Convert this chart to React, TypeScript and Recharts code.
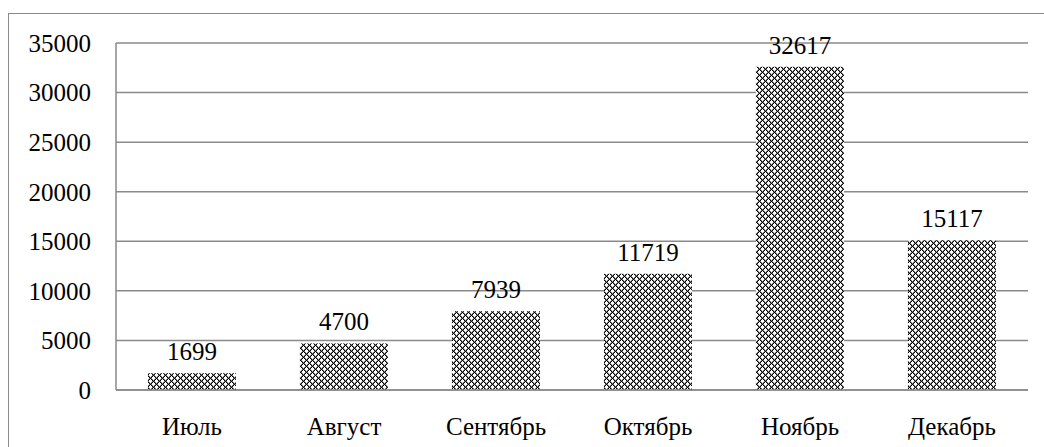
import React from 'react';
import { BarChart, Bar, XAxis, YAxis, CartesianGrid, LabelList } from 'recharts';

const months = ['Июль', 'Август', 'Сентябрь', 'Октябрь', 'Ноябрь', 'Декабрь'];
const values = [1699, 4700, 7939, 11719, 32617, 15117];
const yTicks = [0, 5000, 10000, 15000, 20000, 25000, 30000, 35000];

const data = months.map((m, i) => ({ month: m, value: values[i] }));

const FONT = 'Times New Roman';

const patternCells: Array<[number, number, string]> = [];
for (let y = 0; y < 6; y++) {
  for (let x = 0; x < 6; x++) {
    const d1 = (((x - y) % 6) + 6) % 6;
    const d2 = (x + y) % 6;
    if (d1 === 0 || d2 === 0) patternCells.push([x, y, '#000']);
    else if (d1 === 1 || d2 === 5) patternCells.push([x, y, '#7a7a7a']);
  }
}

export default function App() {
  return (
    <div style={{ position: 'absolute', left: 0, top: 0, width: 1044, height: 447, background: '#fff', overflow: 'hidden' }}>
      <div
        style={{
          position: 'absolute',
          left: 8,
          top: 13,
          width: 1100,
          height: 500,
          borderLeft: '1.5px solid #8a8a8a',
          borderTop: '1.5px solid #8a8a8a',
        }}
      />
      <div style={{ position: 'absolute', left: 0, top: 0 }}>
        <BarChart
          width={1044}
          height={447}
          data={data}
          margin={{ top: 43, right: 16, bottom: 0, left: 0 }}
          barCategoryGap="21%"
        >
          <defs>
            <pattern id="chk" width={6} height={6} patternUnits="userSpaceOnUse">
              <rect x={0} y={0} width={6} height={6} fill="#fff" />
              {patternCells.map(([x, y, c], i) => (
                <rect key={i} x={x} y={y} width={1} height={1} fill={c} shapeRendering="crispEdges" />
              ))}
            </pattern>
          </defs>
          <CartesianGrid vertical={false} stroke="#8a8a8a" strokeWidth={1.5} />
          <XAxis
            dataKey="month"
            height={57}
            tickLine={false}
            tickSize={0}
            tickMargin={27}
            axisLine={{ stroke: '#8a8a8a', strokeWidth: 1.5 }}
            tick={{ fill: '#000', fontSize: 25, fontFamily: FONT }}
            interval={0}
          />
          <YAxis
            width={116}
            domain={[0, 35000]}
            ticks={yTicks}
            tickLine={false}
            tickSize={0}
            tickMargin={25}
            axisLine={{ stroke: '#8a8a8a', strokeWidth: 1.5 }}
            tick={{ fill: '#000', fontSize: 25, fontFamily: FONT }}
            interval={0}
          />
          <Bar dataKey="value" fill="url(#chk)" isAnimationActive={false}>
            <LabelList
              dataKey="value"
              position="top"
              offset={13}
              fill="#000"
              fontSize={25}
              fontFamily={FONT}
            />
          </Bar>
        </BarChart>
      </div>
    </div>
  );
}
